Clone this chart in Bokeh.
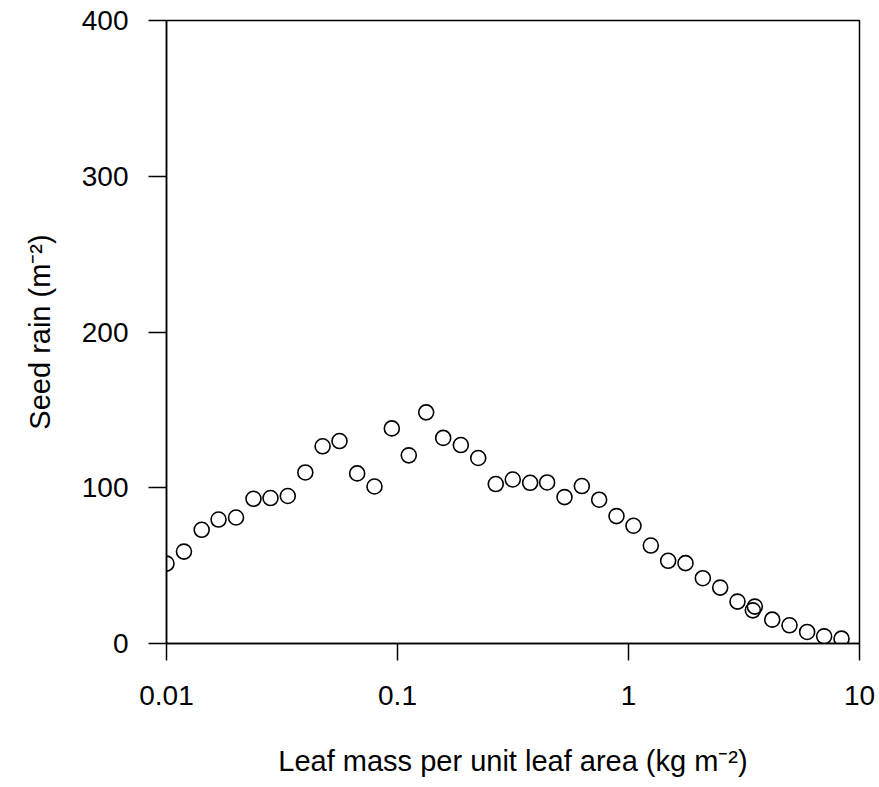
from bokeh.plotting import figure
from bokeh.models import ColumnDataSource, FixedTicker, Range1d
from bokeh.embed import file_html
from bokeh.resources import INLINE

# Leaf mass per unit leaf area (kg m^-2)
lma = [0.0100, 0.0119, 0.0142, 0.0168, 0.0200, 0.0238, 0.0282, 0.0335, 0.0399,
       0.0474, 0.0561, 0.0669, 0.0795, 0.0945, 0.1119, 0.1331, 0.1577, 0.188,
       0.2236, 0.2663, 0.3155, 0.3752, 0.4444, 0.5284, 0.628, 0.7464, 0.8872,
       1.051, 1.249, 1.485, 1.765, 2.098, 2.494, 2.964, 3.453, 3.523, 4.19,
       4.977, 5.934, 7.03, 8.36]
# Seed rain (m^-2)
seed_rain = [51.3, 59.0, 73.0, 79.6, 80.9, 92.9, 93.4, 94.7, 109.8,
             126.6, 130.0, 109.2, 100.8, 138.1, 120.8, 148.4, 132.0, 127.4,
             119.1, 102.4, 105.3, 103.2, 103.4, 94.0, 101.1, 92.3, 81.8,
             75.6, 62.9, 53.1, 51.6, 41.9, 35.9, 26.9, 21.3, 23.7, 15.3,
             11.7, 7.4, 4.6, 3.1]

x_ticks = [0.01, 0.1, 1, 10]
x_tick_labels = ["0.01", "0.1", "1", "10"]
y_ticks = [0, 100, 200, 300, 400]

FONT = "Liberation Sans"
TICK_FS = "28px"
LABEL_FS = "29px"

p = figure(width=879, height=787, x_axis_type="log",
           x_range=Range1d(0.01, 10), y_range=Range1d(0, 400),
           output_backend="svg", toolbar_location=None,
           min_border_left=166, min_border_right=20,
           min_border_top=20, min_border_bottom=144)

src = ColumnDataSource(dict(x=lma, y=seed_rain))
p.scatter("x", "y", source=src, marker="circle", size=15,
          fill_color=None, line_color="black", line_width=1.6)

p.grid.visible = False
p.outline_line_color = "black"
p.outline_line_width = 1.5
p.background_fill_color = "white"
p.border_fill_color = "white"

p.xaxis.ticker = FixedTicker(ticks=x_ticks)
p.xaxis.major_label_overrides = dict(zip(x_ticks, x_tick_labels))
p.yaxis.ticker = FixedTicker(ticks=y_ticks)

for ax in (p.xaxis, p.yaxis):
    ax.axis_line_color = "black"
    ax.axis_line_width = 1.5
    ax.major_tick_line_color = "black"
    ax.major_tick_line_width = 1.5
    ax.major_tick_in = 0
    ax.minor_tick_line_color = None
    ax.major_label_text_font = FONT
    ax.major_label_text_font_size = TICK_FS
    ax.major_label_text_color = "black"
    ax.axis_label_text_font = FONT
    ax.axis_label_text_font_size = LABEL_FS
    ax.axis_label_text_font_style = "normal"
    ax.axis_label_text_color = "black"

p.xaxis.major_tick_out = 17
p.yaxis.major_tick_out = 18
p.xaxis.major_label_standoff = 25
p.yaxis.major_label_standoff = 20
p.xaxis.axis_label = "Leaf mass per unit leaf area (kg m\u207b\u00b2)"
p.yaxis.axis_label = "Seed rain (m\u207b\u00b2)"
p.xaxis.axis_label_standoff = 37
p.yaxis.axis_label_standoff = 23

open("out.html", "w").write(file_html(p, INLINE))
